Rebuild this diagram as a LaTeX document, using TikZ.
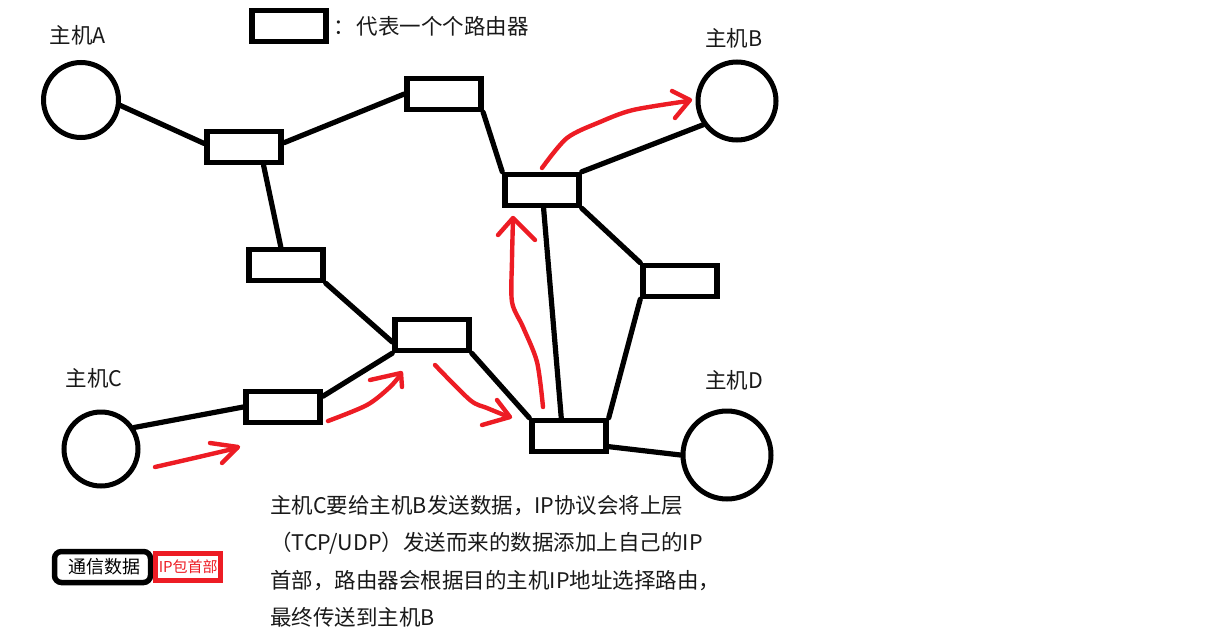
\documentclass[tikz,border=0pt]{standalone}
\usepackage{fontspec}
\setmainfont{Noto Sans CJK SC}
\usepackage{xcolor}
\usetikzlibrary{positioning}
\definecolor{mPaintRed}{HTML}{ED1C24}
\tikzset{
  x=1pt, y=-1pt,
  router/.style={draw, line width=5.5pt, rectangle, minimum width=74pt, minimum height=31pt, inner sep=0pt},
  host/.style={draw, line width=5pt, circle, inner sep=0pt},
  link/.style={line width=5.2pt, line cap=round},
  flow/.style={draw=mPaintRed, line width=4.4pt, line cap=round, line join=round},
  hostname/.style={font=\fontsize{21.5}{25}\selectfont, inner sep=0pt, text=black!90}
}

\begin{document}
\begin{tikzpicture}
    \useasboundingbox (0,0) rectangle (1218,640);

    \node[host, minimum size=75pt] (hosta) at (81,100) {};
    \node[host, minimum size=78pt] (hostb) at (737,101) {};
    \node[host, minimum size=74pt] (hostc) at (101,449) {};
    \node[host, minimum size=88pt] (hostd) at (727,455) {};

    \node[hostname] (labela) at (78,35) {主机A};
    \node[hostname] (labelb) at (734,38) {主机B};
    \node[hostname] (labelc) at (94,378) {主机C};
    \node[hostname] (labeld) at (734,380) {主机D};

    \node[router] (legend) at (289,26) {};
    \node[router] (router1) at (244,147) {};
    \node[router] (router2) at (444,94) {};
    \node[router] (router3) at (542,190) {};
    \node[router] (router4) at (286,265) {};
    \node[router] (router5) at (432,335) {};
    \node[router] (router6) at (680,281) {};
    \node[router] (router7) at (283,407) {};
    \node[router] (router8) at (569,436) {};

    \node[hostname, anchor=west] (legendtext) at (333,26) {：\hspace{0.1em}代表一个个路由器};

    \draw[link] (hosta.-8) -- (router1.175);
    \draw[link] (router1.6) -- (router2.west);
    \draw[link] (router1.-43) -- (router4.106);
    \draw[link] (router4.south east) -- (router5.-170);
    \draw[link] (router5.south west) -- (router7.15);
    \draw[link] (router7.west) -- (hostc.33);
    \draw[link] (router5.south east) -- (router8.north west);
    \draw[link] (router2.-25) -- (router3.north west);
    \draw[link] (router3.north east) -- (hostb.-145);
    \draw[link] (router3.south east) -- (router6.north west);
    \draw[link] (router3.-85) -- (router8.113);
    \draw[link] (router6.south west) -- (router8.north east);
    \draw[link] (router8.-15) -- (hostd.180);

    \draw[flow] plot[smooth] coordinates {(155,467) (190,459) (237,448)};
    \draw[flow] (210,443) -- (238,447) -- (222,463);
    \draw[flow] plot[smooth] coordinates {(328,421) (367,405) (390,387) (401,374)};
    \draw[flow] (370,380) -- (401,373) -- (402,387);
    \draw[flow] plot[smooth] coordinates {(435,365) (470,400) (487,408) (509,417)};
    \draw[flow] (497,400) -- (510,417) -- (482,425);
    \draw[flow] plot[smooth] coordinates {(543,407) (537,362) (523,327) (512,302) (512,260) (513,219)};
    \draw[flow] (498,235) -- (513,218) -- (535,240);
    \draw[flow] plot[smooth] coordinates {(542,168) (567,138) (600,122) (633,110) (688,101)};
    \draw[flow] (672,91) -- (690,100) -- (675,118);

    \node[draw, line width=5.5pt, rounded corners=7pt, minimum width=96pt, minimum height=31pt, inner sep=0pt,
      font=\fontsize{18}{20}\selectfont] (payload) at (102.5,567) {\raisebox{-1pt}{\hspace{3pt}通信数据}};
    \node[draw=mPaintRed, line width=5pt, minimum width=65pt, minimum height=27pt, inner sep=0pt,
      text=mPaintRed, font=\fontsize{15}{17}\selectfont, right=0pt of payload] (ipheader) {IP包首部};

    \node[anchor=north west, align=left, inner sep=0pt, text=black!90,
      font=\fontsize{21.5}{37.4}\selectfont] (notes) at (270,495)
      {主机C要给主机B发送数据，IP协议会将上层\\（TCP/UDP）发送而来的数据添加上自己的IP\\首部，路由器会根据目的主机IP地址选择路由，\\最终传送到主机B};
  \end{tikzpicture}
\end{document}
